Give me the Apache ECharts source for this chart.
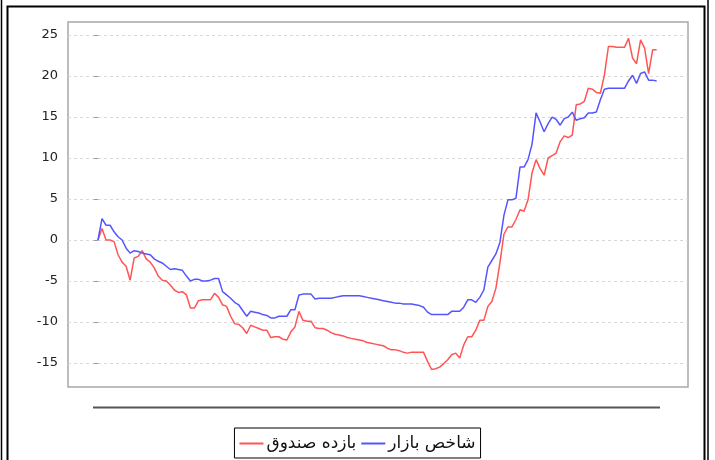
<!DOCTYPE html>
<html>
<head>
<meta charset="utf-8">
<script src="https://cdn.jsdelivr.net/npm/echarts@6/dist/echarts.min.js"></script>
<style>
html,body{margin:0;padding:0;background:#fff;}
#c{width:715px;height:460px;}
</style>
</head>
<body>
<div id="c"></div>
<script>
// Series names (legend)
const seriesNames = ['بازده صندوق', 'شاخص بازار'];
// Y-axis tick labels
const yTicks = [-15, -10, -5, 0, 5, 10, 15, 20, 25];
// Fund return (red)
const fundReturn = [
  0, 1.4, 0, 0, -0.2, -1.8, -2.7, -3.2, -4.9, -2.2,
  -2.0, -1.3, -2.3, -2.7, -3.4, -4.4, -4.9, -5.0, -5.5, -6.1,
  -6.4, -6.3, -6.7, -8.3, -8.3, -7.4, -7.3, -7.3, -7.3, -6.5,
  -7.0, -7.9, -8.1, -9.3, -10.2, -10.3, -10.7, -11.4, -10.4, -10.6,
  -10.8, -11.0, -11.0, -11.9, -11.8, -11.8, -12.1, -12.2, -11.2, -10.6,
  -8.7, -9.8, -9.9, -9.9, -10.7, -10.8, -10.8, -11.0, -11.3, -11.5,
  -11.6, -11.7, -11.9, -12.0, -12.1, -12.2, -12.3, -12.5, -12.6, -12.7,
  -12.8, -12.9, -13.2, -13.4, -13.4, -13.5, -13.7, -13.8, -13.7, -13.7,
  -13.7, -13.7, -14.8, -15.8, -15.7, -15.5, -15.1, -14.6, -14.0, -13.8,
  -14.4, -12.8, -11.8, -11.8, -11.0, -9.8, -9.8, -8.1, -7.5, -5.9,
  -2.8, 0.7, 1.6, 1.6, 2.5, 3.7, 3.5, 4.9, 8.2, 9.8,
  8.7, 7.9, 10.0, 10.3, 10.6, 12.0, 12.7, 12.5, 12.8, 16.5,
  16.6, 16.9, 18.5, 18.4, 18.0, 17.9, 20.1, 23.6, 23.6, 23.5,
  23.5, 23.5, 24.6, 22.2, 21.5, 24.4, 23.4, 20.3, 23.2, 23.2
];
// Market index (blue)
const marketIndex = [
  0, 2.6, 1.8, 1.8, 1.0, 0.4, 0, -1.0, -1.6, -1.3,
  -1.4, -1.6, -1.7, -1.8, -2.3, -2.6, -2.8, -3.2, -3.6, -3.5,
  -3.6, -3.7, -4.4, -5.0, -4.8, -4.8, -5.0, -5.0, -4.9, -4.7,
  -4.7, -6.3, -6.7, -7.1, -7.6, -7.9, -8.6, -9.3, -8.7, -8.8,
  -8.9, -9.1, -9.2, -9.5, -9.5, -9.3, -9.3, -9.3, -8.5, -8.5,
  -6.7, -6.6, -6.6, -6.6, -7.2, -7.1, -7.1, -7.1, -7.1, -7.0,
  -6.9, -6.8, -6.8, -6.8, -6.8, -6.8, -6.9, -7.0, -7.1, -7.2,
  -7.3, -7.4, -7.5, -7.6, -7.7, -7.7, -7.8, -7.8, -7.8, -7.9,
  -8.0, -8.2, -8.8, -9.1, -9.1, -9.1, -9.1, -9.1, -8.7, -8.7,
  -8.7, -8.2, -7.3, -7.3, -7.6, -7.0, -6.1, -3.3, -2.5, -1.7,
  -0.3, 3.0, 4.9, 4.9, 5.1, 8.9, 8.9, 9.8, 11.7, 15.5,
  14.4, 13.2, 14.2, 15.0, 14.7, 14.0, 14.8, 15.0, 15.6, 14.6,
  14.8, 14.9, 15.5, 15.5, 15.6, 17.1, 18.4, 18.5, 18.5, 18.5,
  18.5, 18.5, 19.4, 20.1, 19.1, 20.3, 20.5, 19.5, 19.5, 19.4
];

const chart = echarts.init(document.getElementById('c'), null, {renderer: 'canvas'});
const font = 'DejaVu Sans';
const toPairs = arr => arr.map((v, i) => [i, v]);

chart.setOption({
  animation: false,
  backgroundColor: '#ffffff',
  textStyle: {fontFamily: font},
  grid: {
    left: 68, top: 22, width: 620, height: 365,
    show: true, borderColor: '#a8a8a8', borderWidth: 1.5, backgroundColor: '#ffffff',
    containLabel: false
  },
  xAxis: {
    type: 'value', min: -7.46, max: 146.8,
    show: false, splitLine: {show: false}
  },
  yAxis: {
    type: 'value', min: -17.93, max: 26.59,
    axisLine: {show: false},
    axisTick: {show: true, length: 4, lineStyle: {color: '#999'}, customValues: yTicks},
    axisLabel: {color: '#222', fontSize: 13, fontFamily: font, margin: 10, customValues: yTicks},
    splitLine: {show: true, lineStyle: {color: '#d8d8d8', type: [3, 3], width: 1}}
  },
  legend: {
    data: seriesNames,
    left: 'center', top: 428,
    orient: 'horizontal',
    icon: 'rect', itemWidth: 24, itemHeight: 2, itemGap: 5,
    borderColor: '#000', borderWidth: 1, padding: [7, 5, 6, 5],
    textStyle: {color: '#111', fontSize: 17, fontFamily: font, padding: [0, 0, 0, -2]}
  },
  graphic: [
    {type: 'line', shape: {x1: 1.5, y1: 0, x2: 1.5, y2: 460}, style: {stroke: '#000', lineWidth: 1.5}},
    {type: 'line', shape: {x1: 708, y1: 0, x2: 708, y2: 460}, style: {stroke: '#000', lineWidth: 1.5}},
    {type: 'polyline', shape: {points: [[7.5, 470], [7.5, 6.5], [704.5, 6.5], [704.5, 470]]}, style: {stroke: '#000', lineWidth: 2, fill: null}},
    {type: 'line', shape: {x1: 93, y1: 407.5, x2: 660, y2: 407.5}, style: {stroke: '#555', lineWidth: 2}}
  ],
  series: [
    {
      name: seriesNames[0], type: 'line', data: toPairs(fundReturn),
      showSymbol: false, symbol: 'none',
      lineStyle: {color: '#ff5555', width: 1.5}, itemStyle: {color: '#ff5555'}
    },
    {
      name: seriesNames[1], type: 'line', data: toPairs(marketIndex),
      showSymbol: false, symbol: 'none',
      lineStyle: {color: '#5555ff', width: 1.5}, itemStyle: {color: '#5555ff'}
    }
  ]
});
</script>
</body>
</html>
